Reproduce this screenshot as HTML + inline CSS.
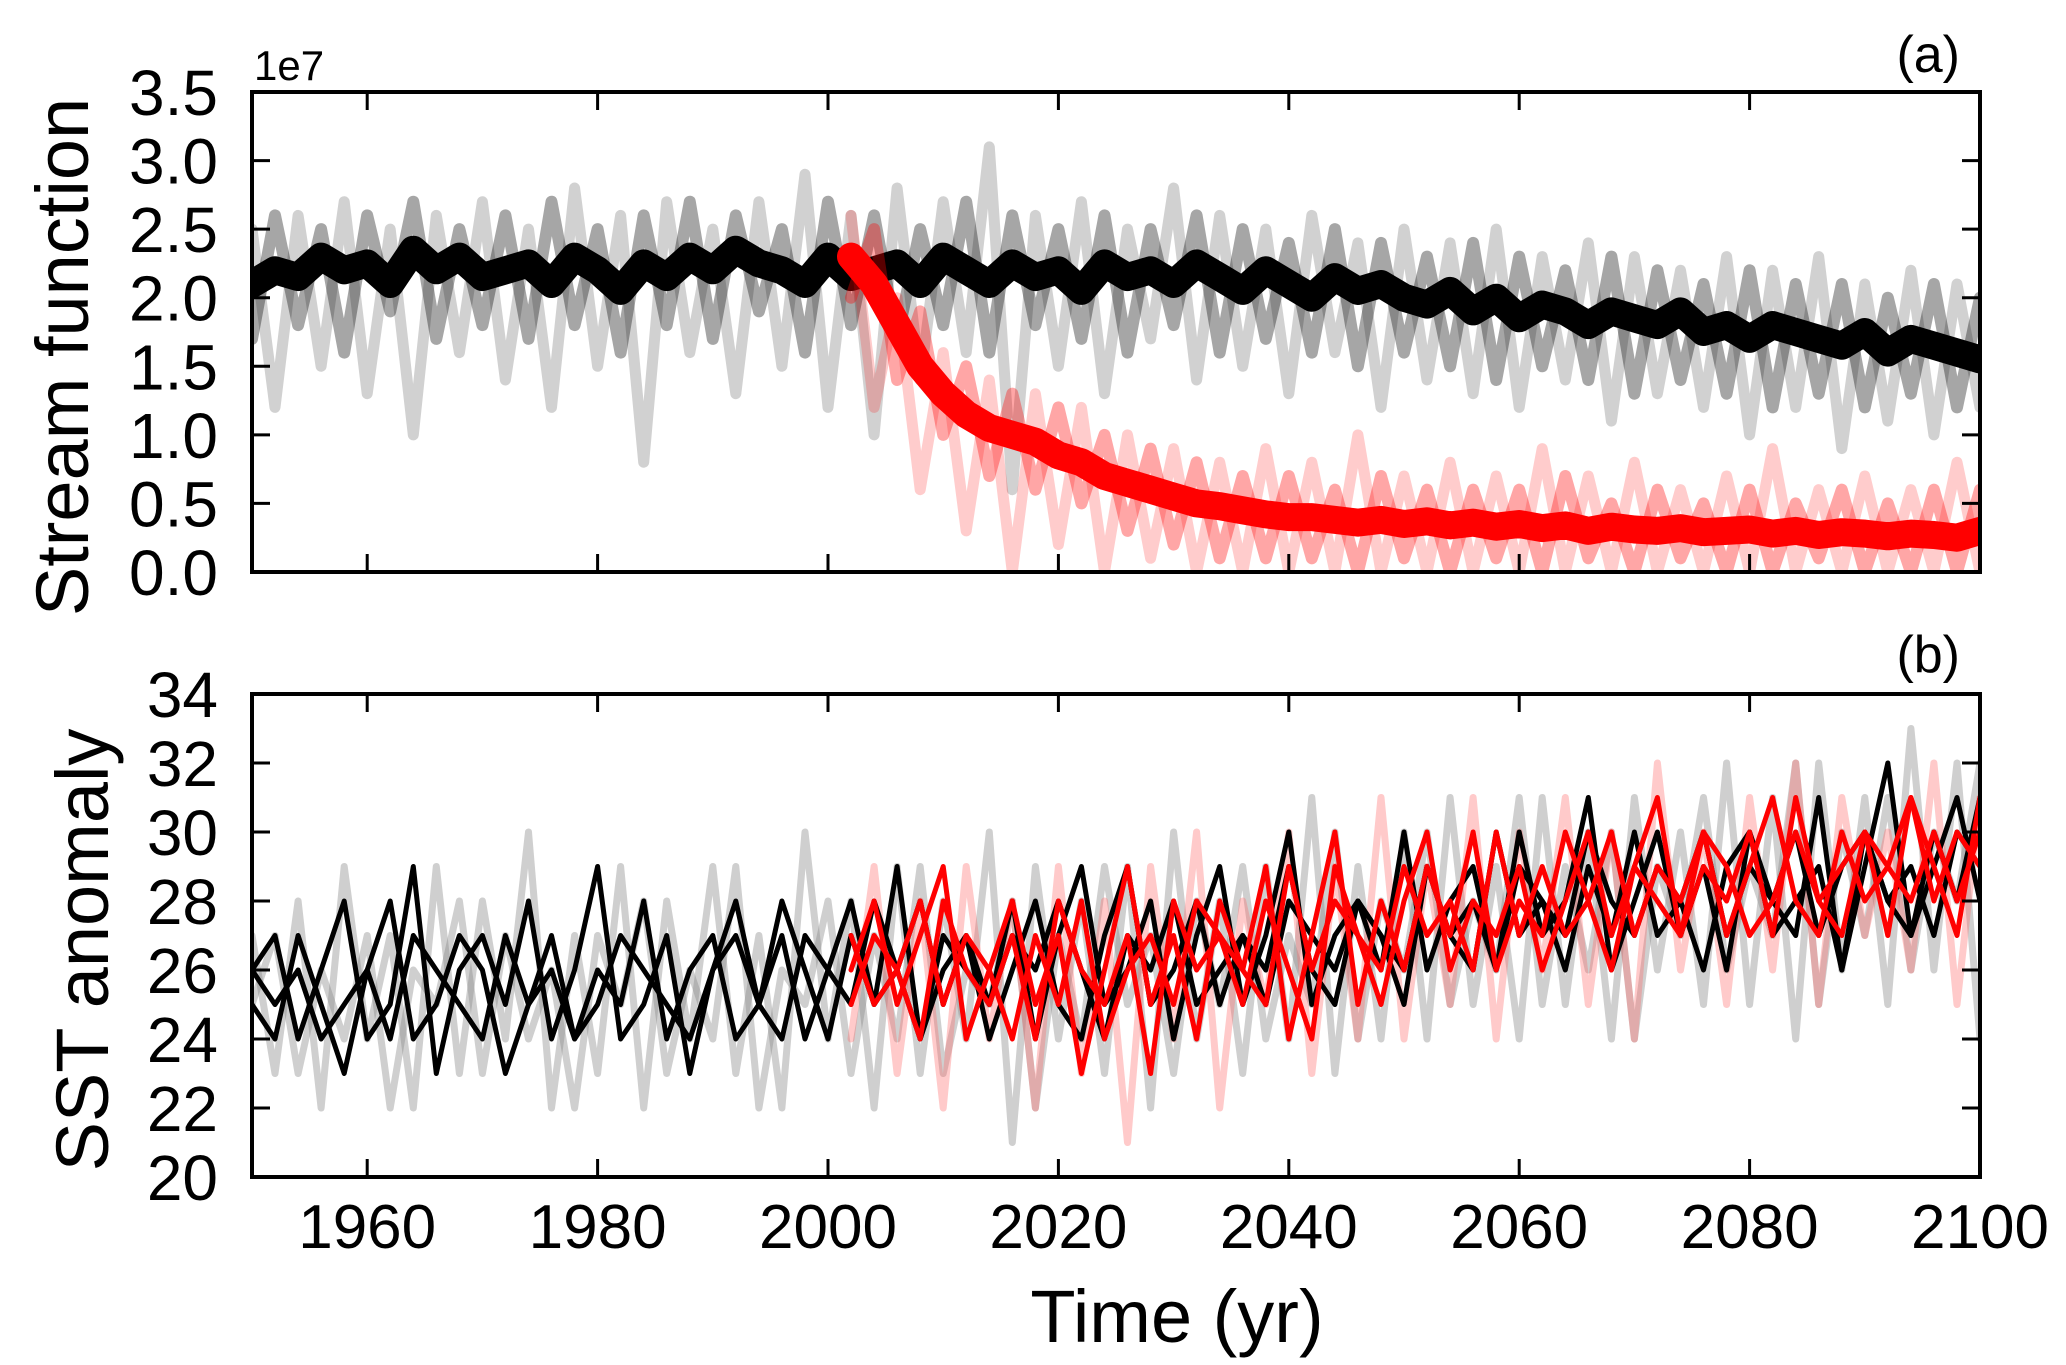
<!DOCTYPE html>
<html><head><meta charset="utf-8"><style>
html,body{margin:0;padding:0;background:#fff;}
svg{display:block;font-family:"Liberation Sans",sans-serif;}
</style></head><body>
<svg id="chart" width="2066" height="1365" viewBox="0 0 2066 1365">
<defs>
<clipPath id="clipA"><rect x="252" y="92" width="1728" height="480"/></clipPath>
<clipPath id="clipB"><rect x="252" y="694" width="1728" height="483"/></clipPath>
</defs>
<g id="panelA"></g>
<g id="panelB"></g>
</svg>
<script>
// ---- data: panel (a) stream function (x1e7), 1950-2100 every 2 yr; red from 2002
const xTicks = [1960, 1980, 2000, 2020, 2040, 2060, 2080, 2100];
const aTicks = [0.0, 0.5, 1.0, 1.5, 2.0, 2.5, 3.0, 3.5];
const bTicks = [20, 22, 24, 26, 28, 30, 32, 34];
const blackMean = [2.1,2.2,2.15,2.3,2.2,2.25,2.1,2.35,2.2,2.3,2.15,2.2,2.25,2.1,2.3,2.2,2.05,2.25,2.15,2.3,2.2,2.35,2.25,2.2,2.1,2.3,2.15,2.2,2.25,2.1,2.3,2.2,2.1,2.25,2.15,2.2,2.05,2.25,2.15,2.2,2.1,2.25,2.15,2.05,2.2,2.1,2.0,2.15,2.05,2.1,2.0,1.95,2.05,1.9,2.0,1.85,1.95,1.9,1.8,1.9,1.85,1.8,1.9,1.75,1.8,1.7,1.8,1.75,1.7,1.65,1.75,1.6,1.7,1.65,1.6,1.55];
const grayA1 = [2.5,1.2,2.6,1.5,2.7,1.3,2.5,1.0,2.6,1.6,2.7,1.4,2.5,1.2,2.8,1.5,2.6,0.8,2.7,1.6,2.5,1.3,2.7,1.5,2.9,1.2,2.6,1.0,2.8,1.4,2.7,1.6,3.1,0.6,2.6,1.5,2.7,1.3,2.5,1.7,2.8,1.4,2.6,1.5,2.5,1.3,2.6,1.6,2.4,1.2,2.5,1.4,2.4,1.3,2.5,1.2,2.3,1.4,2.4,1.1,2.3,1.3,2.2,1.2,2.3,1.0,2.2,1.2,2.3,0.9,2.1,1.1,2.2,1.0,2.1,1.2];
const grayA2 = [1.7,2.6,1.8,2.5,1.6,2.6,1.9,2.7,1.7,2.5,1.8,2.6,1.7,2.7,1.8,2.5,1.6,2.6,1.8,2.7,1.7,2.6,1.9,2.5,1.6,2.7,1.8,2.6,1.7,2.5,1.8,2.7,1.6,2.6,1.8,2.5,1.7,2.6,1.6,2.5,1.8,2.6,1.6,2.5,1.7,2.4,1.6,2.5,1.5,2.4,1.6,2.3,1.5,2.4,1.4,2.3,1.5,2.2,1.4,2.3,1.3,2.2,1.4,2.1,1.3,2.2,1.2,2.1,1.3,2.1,1.2,2.0,1.3,2.1,1.2,2.0];
const redMean = [2.3,2.1,1.8,1.5,1.3,1.15,1.05,1.0,0.95,0.85,0.8,0.7,0.65,0.6,0.55,0.5,0.48,0.45,0.42,0.4,0.4,0.38,0.36,0.38,0.35,0.37,0.34,0.36,0.33,0.35,0.32,0.34,0.3,0.33,0.31,0.3,0.32,0.29,0.3,0.31,0.28,0.3,0.27,0.29,0.28,0.26,0.28,0.27,0.25,0.3];
const redA1 = [2.6,1.2,2.0,0.6,1.6,0.3,1.4,0.0,1.3,0.2,1.2,0.0,1.0,0.1,0.9,0.0,0.8,0.0,0.9,0.0,0.8,0.0,1.0,0.0,0.7,0.0,0.8,0.0,0.7,0.0,0.9,0.0,0.7,0.0,0.8,0.0,0.6,0.0,0.7,0.0,0.9,0.0,0.6,0.0,0.7,0.0,0.6,0.0,0.8,0.0];
const redA2 = [2.0,2.5,1.4,1.9,1.0,1.5,0.7,1.3,0.6,1.2,0.5,1.0,0.3,0.9,0.2,0.8,0.1,0.7,0.1,0.7,0.1,0.6,0.0,0.7,0.1,0.6,0.0,0.6,0.1,0.6,0.0,0.7,0.1,0.5,0.0,0.6,0.1,0.5,0.0,0.6,0.0,0.5,0.1,0.6,0.0,0.5,0.0,0.6,0.0,0.6];
// ---- data: panel (b) SST
const sstBlack1 = [26,27,24,26,28,24,25,29,23,26,27,25,28,24,26,29,24,25,27,23,26,28,25,27,24,26,28,25,29,24,26,27,25,28,24,27,29,25,26,28,24,27,29,25,27,30,25,27,28,26,30,26,28,29,26,30,27,28,31,26,28,30,27,29,26,30,28,27,31,26,29,32,27,30,28,31];
const sstBlack2 = [25,24,27,25,23,26,28,24,25,27,26,23,25,27,24,26,25,28,24,26,27,24,25,28,26,24,27,25,26,28,25,27,24,26,28,25,24,27,29,25,26,28,25,27,26,29,26,25,28,27,26,29,27,26,30,27,28,26,29,27,30,27,28,26,29,30,27,28,29,26,30,28,27,29,31,28];
const sstBlack3 = [26,25,26,24,25,26,24,27,26,25,24,27,25,26,24,25,27,26,25,24,26,27,25,24,27,26,25,28,26,24,27,26,25,27,26,28,26,24,27,26,28,25,26,27,25,28,27,26,28,27,25,29,27,28,26,29,28,27,30,28,27,29,28,30,27,29,28,30,27,29,30,28,29,27,30,29];
const sstGray1 = [27,23,28,22,29,24,27,22,29,23,28,24,30,22,27,23,29,22,28,24,29,23,27,22,30,24,28,22,29,23,28,24,30,21,29,24,28,23,29,22,30,24,28,23,29,24,31,23,29,24,30,24,31,25,29,24,31,25,30,24,31,26,30,25,32,25,31,24,32,26,31,25,33,26,32,24];
const sstGray2 = [25,27,23,26,24,27,22,26,25,28,23,27,24,26,22,27,25,28,23,26,24,29,22,26,25,28,23,27,24,29,23,26,25,28,22,27,24,29,25,27,23,28,25,29,24,27,25,30,24,28,26,30,25,28,26,31,25,29,26,30,24,29,27,31,26,29,27,32,25,30,27,31,26,30,28,32];
const sstRed1 = [26,28,25,27,29,24,26,28,25,27,23,26,29,25,27,24,28,26,29,24,27,30,25,28,26,29,27,30,26,28,27,30,28,26,29,31,27,29,28,30,27,31,28,29,30,27,31,29,27,31];
const sstRed2 = [25,27,26,24,28,26,25,27,24,28,26,25,27,23,28,26,27,25,28,26,24,29,27,26,29,27,28,26,30,27,29,27,28,30,27,29,28,30,27,29,31,28,27,30,28,29,31,28,30,29];
const sstRed3 = [27,25,26,28,25,27,26,24,27,25,28,24,26,27,25,28,27,26,25,29,26,28,27,25,28,30,26,28,27,29,26,28,30,27,29,28,27,30,29,27,28,30,28,27,30,29,28,30,28,30];
const sstRedFaint = [24,29,23,28,22,29,24,28,22,29,23,28,21,29,24,30,22,28,25,30,23,29,24,31,24,29,25,31,24,30,26,31,25,30,24,32,26,30,25,31,26,32,25,31,27,30,26,32,25,31];

const NS = "http://www.w3.org/2000/svg";
const X0 = 252, X1 = 1980;
const xs = y => X0 + (y - 1950) / 150 * (X1 - X0);
const yA = v => 572 - v / 3.5 * (572 - 92);
const yB = v => 1177 - (v - 20) / 14 * (1177 - 694);

function mk(tag, attrs, parent) {
  const e = document.createElementNS(NS, tag);
  for (const k in attrs) e.setAttribute(k, attrs[k]);
  parent.appendChild(e);
  return e;
}
function series(parent, vals, start, yfn, color, width, opacity, clip, name) {
  const step = (2100 - start) / (vals.length - 1);
  const d = vals.map((v, i) => (i ? "L" : "M") + xs(start + i * step).toFixed(1) + "," + yfn(v).toFixed(1)).join("");
  const p = mk("path", {d: d, fill: "none", stroke: color, "stroke-width": width, "stroke-opacity": opacity, "stroke-linejoin": "round", "stroke-linecap": "round", "clip-path": "url(#" + clip + ")"}, parent);
  
  
}
function axes(parent, top, bot, ticks, yfn, fmt, showX, nm) {
  const frame = mk("rect", {x: X0, y: top, width: X1 - X0, height: bot - top, fill: "none", stroke: "#000", "stroke-width": 4}, parent);
  
  
  ticks.forEach(t => {
    const y = yfn(t);
    mk("line", {x1: X0, x2: X0 + 18, y1: y, y2: y, stroke: "#000", "stroke-width": 3}, parent);
    mk("line", {x1: X1 - 18, x2: X1, y1: y, y2: y, stroke: "#000", "stroke-width": 3}, parent);
    const tx = mk("text", {x: 218, y: y + 23, "text-anchor": "end", "font-size": 64}, parent);
    tx.textContent = fmt(t);
    
    
  });
  xTicks.forEach(t => {
    const x = xs(t);
    mk("line", {x1: x, x2: x, y1: bot, y2: bot - 18, stroke: "#000", "stroke-width": 3}, parent);
    mk("line", {x1: x, x2: x, y1: top, y2: top + 18, stroke: "#000", "stroke-width": 3}, parent);
    if (showX) {
      const tx = mk("text", {x: x, y: 1248, "text-anchor": "middle", "font-size": 62}, parent);
      tx.textContent = t;
      
      
    }
  });
}
const A = document.getElementById("panelA");
series(A, grayA1, 1950, yA, "#000", 11, 0.18, "clipA", "gray-member-1");
series(A, grayA2, 1950, yA, "#000", 12, 0.35, "clipA", "gray-member-2");
series(A, blackMean, 1950, yA, "#000", 28, 1, "clipA", "black-mean-series");
series(A, redA1, 2002, yA, "#f00", 11, 0.2, "clipA", "red-member-1");
series(A, redA2, 2002, yA, "#f00", 12, 0.35, "clipA", "red-member-2");
series(A, redMean, 2002, yA, "#f00", 28, 1, "clipA", "red-mean-series");
axes(A, 92, 572, aTicks, yA, v => v.toFixed(1), false, "panel-a");

const B = document.getElementById("panelB");
series(B, sstGray1, 1950, yB, "#888", 7, 0.4, "clipB", "sst-gray-member-1");
series(B, sstGray2, 1950, yB, "#888", 7, 0.4, "clipB", "sst-gray-member-2");
series(B, sstRedFaint, 2002, yB, "#f66", 7, 0.35, "clipB", "sst-red-faint");
series(B, sstBlack1, 1950, yB, "#000", 5, 1, "clipB", "sst-black-1");
series(B, sstBlack2, 1950, yB, "#000", 5, 1, "clipB", "sst-black-2");
series(B, sstBlack3, 1950, yB, "#000", 5, 1, "clipB", "sst-black-3");
series(B, sstRed1, 2002, yB, "#f00", 5, 1, "clipB", "sst-red-1");
series(B, sstRed2, 2002, yB, "#f00", 5, 1, "clipB", "sst-red-2");
series(B, sstRed3, 2002, yB, "#f00", 5, 1, "clipB", "sst-red-3");
axes(B, 694, 1177, bTicks, yB, v => String(v), true, "panel-b");

const S = document.getElementById("chart");
function label(txt, attrs, name) {
  const t = mk("text", attrs, S);
  t.textContent = txt;
  
  
}
label("1e7", {x: 254, y: 80, "font-size": 42}, "offset-label");
label("(a)", {x: 1960, y: 72, "text-anchor": "end", "font-size": 52}, "panel-a-label");
label("(b)", {x: 1960, y: 672, "text-anchor": "end", "font-size": 52}, "panel-b-label");
label("Stream function", {x: 0, y: 0, "font-size": 74, "text-anchor": "middle", transform: "translate(88,357) rotate(-90)"}, "y-axis-title-a");
label("SST anomaly", {x: 0, y: 0, "font-size": 74, "text-anchor": "middle", transform: "translate(108,950) rotate(-90)"}, "y-axis-title-b");
label("Time (yr)", {x: 1177, y: 1342, "font-size": 74, "text-anchor": "middle"}, "x-axis-title");
</script>
</body></html>
